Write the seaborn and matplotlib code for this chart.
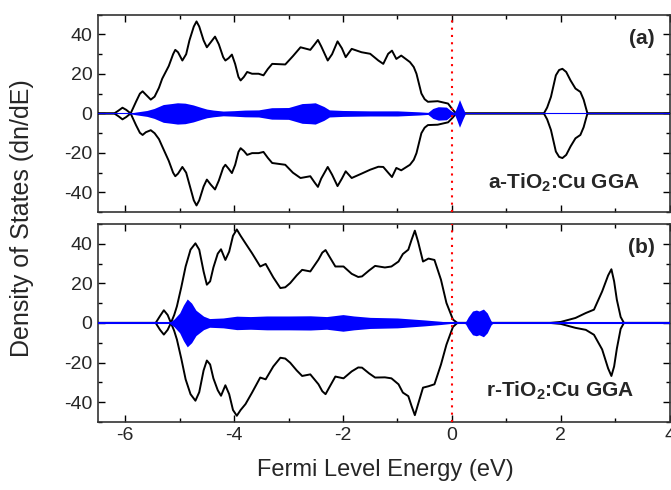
import numpy as np
import pandas as pd
import matplotlib
matplotlib.use("Agg")
import matplotlib.pyplot as plt
from matplotlib.ticker import MultipleLocator
import seaborn as sns

# ---------------- data ----------------
# panel (a): a-TiO2:Cu  total DOS, spin up / spin down
E_a = [-6.5, -6.2, -6.12, -6.05, -5.98, -5.9, -5.8, -5.73, -5.68, -5.62, -5.53, -5.46,
       -5.38, -5.32, -5.2, -5.12, -5.08, -5.03, -4.95, -4.88, -4.82, -4.74, -4.69,
       -4.64, -4.56, -4.5, -4.43, -4.35, -4.28, -4.2, -4.16, -4.10, -4.04, -3.98,
       -3.92, -3.88, -3.82, -3.76, -3.67, -3.55, -3.46, -3.38, -3.30, -3.06, -2.92,
       -2.78, -2.60, -2.52, -2.46, -2.40, -2.28, -2.20, -2.10, -2.02, -1.95, -1.84,
       -1.66, -1.50, -1.35, -1.26, -1.17, -1.10, -1.02, -0.93, -0.77, -0.70, -0.65,
       -0.56, -0.50, -0.44, -0.26, -0.07, 0.02, 0.08, 0.3, 1.69, 1.75, 1.82, 1.91,
       1.97, 2.03, 2.10, 2.18, 2.27, 2.36, 2.42, 2.49, 4.0]
up_a = [0, 0, 1.5, 2.9, 1.8, 0, 6, 10, 11.2, 9.5, 7.0, 8.5,
        13, 17.6, 24, 30, 32.2, 31, 26.8, 30, 37, 44, 46.6,
        44, 37, 33.5, 36, 38.9, 35, 28.5, 26.8, 28, 29.8, 25,
        18.5, 16.7, 18.5, 21.0, 20.1, 20.1, 19.3, 22.5, 25.1, 24.8, 29,
        33.5, 32.2, 35, 37.2, 34, 26.8, 30, 36.5, 33, 28.5, 32.7,
        31.0, 30.2, 26.8, 25.1, 30.2, 31.8, 27.6, 29.3, 26.0, 23.5, 20.1,
        10.1, 7.2, 5.9, 6.2, 5.0, 1.7, 0, 0, 0, 3, 8.4, 19.3,
        22, 22.6, 21, 16.7, 12.6, 10.9, 7, 0, 0]
dn_a = [0, 0, -1.5, -3.0, -1.8, 0, -6, -9.8, -10.9, -9.5, -8.5, -10,
        -13, -16.7, -24, -30, -31.8, -30.5, -27.1, -30, -36, -44, -46.6,
        -44, -37, -33.5, -36, -38.5, -34, -27.5, -26, -28, -30.2, -26,
        -19.5, -17.6, -19, -21, -20.1, -20.1, -19.5, -22.5, -25.1, -26, -30,
        -32.7, -31.8, -35, -37.2, -33, -27.1, -31, -36.8, -33, -29.3, -32.7,
        -30.5, -28.5, -27, -27.1, -30, -32.2, -27.6, -28.8, -26, -23.5, -20.1,
        -10, -7.2, -5.9, -5.7, -4.5, -2, 0, 0, 0, -3, -8.4, -19.3,
        -22, -22.6, -21, -16.7, -12.6, -10.9, -7, 0, 0]

# panel (a): Cu partial DOS (filled, symmetric)
Ep_a = [-6.5, -5.95, -5.8, -5.6, -5.47, -5.3, -5.15, -5.04, -4.9, -4.75, -4.6, -4.5,
        -4.38, -4.2, -4.0, -3.8, -3.55, -3.31, -3.0, -2.75, -2.6, -2.51, -2.35, -2.25,
        -2.0, -1.5, -1.0, -0.6, -0.44, -0.35, -0.25, -0.1, 0.0, 0.05, 0.1, 0.14, 0.2,
        0.25, 4.0]
pd_a = [0, 0, 0.7, 1.5, 2.5, 4.5, 5.0, 5.4, 5.2, 4.3, 3.0, 2.2,
        1.7, 1.2, 1.4, 1.7, 1.8, 2.9, 3.0, 5.0, 5.2, 5.4, 3.5, 1.8,
        1.5, 1.3, 1.3, 0.8, 0.5, 2.5, 3.4, 3.2, 1.0, 0.5, 4.0, 7.0, 3.0,
        0, 0]

# panel (b): r-TiO2:Cu total DOS
E_b = [-6.5, -5.44, -5.36, -5.29, -5.22, -5.16, -5.10, -5.05, -4.97, -4.89, -4.80,
       -4.71, -4.64, -4.56, -4.50, -4.44, -4.38, -4.30, -4.24, -4.16, -4.09, -4.02,
       -3.95, -3.88, -3.79, -3.67, -3.52, -3.42, -3.28, -3.15, -3.06, -2.97, -2.85,
       -2.75, -2.60, -2.45, -2.38, -2.32, -2.26, -2.14, -1.99, -1.84, -1.72, -1.65,
       -1.52, -1.41, -1.23, -1.11, -0.98, -0.90, -0.80, -0.74, -0.68, -0.62, -0.53,
       -0.43, -0.32, -0.20, -0.10, 0.02, 0.10, 1.8, 2.0, 2.27, 2.46, 2.61, 2.76,
       2.87, 2.93, 2.98, 3.03, 3.10, 3.16, 4.0]
up_b = [0, 0, 3.5, 6.4, 4, 0, 4, 8.4, 18, 28.5, 37,
        40.2, 37, 26, 19.3, 21, 28, 35, 37.2, 31.8, 36, 44,
        47.2, 44, 40.2, 35.2, 28.5, 29.8, 23, 17.6, 18, 20.1, 24,
        26.8, 26.0, 32, 35.5, 36.8, 34, 28.5, 28.5, 24.8, 23.2, 23.5,
        26.5, 28.8, 28.0, 28.5, 31, 34.8, 37, 42, 46.6, 41, 31.0,
        32.5, 31.8, 21.8, 10.1, 1.7, 0, 0, 0.5, 2.5, 5.0, 6.7, 15.9,
        24, 27.1, 21, 11.7, 3, 0, 0]
dn_b = [0, 0, -3.5, -5.9, -3.5, 0, -4, -8.4, -18, -28.5, -36,
        -39.3, -35, -24, -19, -21, -28, -34, -36.8, -31.5, -36, -44,
        -46.9, -44, -41, -35.2, -27.6, -28.5, -22, -17.6, -18, -20.1, -24,
        -26.8, -26, -31, -34.5, -36, -33, -27.1, -28, -24.5, -22.5, -22.6,
        -25.5, -27.6, -27.5, -28, -31, -35.2, -37, -42, -46.6, -41, -32.7,
        -32, -31, -21, -11, -2, 0, 0, -0.5, -2.5, -3.5, -6, -13.4,
        -23, -26.8, -22, -13, -3, 0, 0]

# panel (b): Cu partial DOS
Ep_b = [-6.5, -5.2, -5.1, -5.0, -4.93, -4.86, -4.78, -4.7, -4.56, -4.45, -4.2, -3.95,
        -3.7, -3.4, -3.0, -2.6, -2.3, -2.0, -1.8, -1.5, -1.0, -0.5, -0.2, 0.0, 0.2,
        0.25, 0.3, 0.38, 0.45, 0.5, 0.58, 0.65, 0.72, 0.76, 4.0]
pd_b = [0, 0, 2, 5, 9, 12.1, 10, 6.4, 3.4, 2.2, 2.5, 3.4,
        3.2, 3.5, 3.5, 3.6, 3.2, 4.2, 3.5, 2.8, 2.5, 1.5, 0.8, 0.2, 0,
        0.5, 3, 6, 6.5, 6, 7, 5, 1, 0, 0]

panel_tags = ["(a)", "(b)"]
panel_names = [r"a-TiO$_\mathbf{2}$:Cu GGA", r"r-TiO$_\mathbf{2}$:Cu GGA"]
x_ticks = [-6, -4, -2, 0, 2, 4]
y_ticks = [-40, -20, 0, 20, 40]

# ---------------- style ----------------
sns.set_theme(style="ticks")
plt.rcParams["font.family"] = ["Liberation Sans", "DejaVu Sans"]
plt.rcParams["mathtext.fontset"] = "custom"
plt.rcParams["mathtext.rm"] = "Liberation Sans"
plt.rcParams["mathtext.bf"] = "Liberation Sans:bold"
plt.rcParams["axes.unicode_minus"] = False

fig = plt.figure(figsize=(6.71, 4.90), dpi=100)
ax_a = fig.add_axes([0.146, 0.567, 0.852, 0.403])
ax_b = fig.add_axes([0.146, 0.139, 0.852, 0.404])

panels = [
    (ax_a, E_a, up_a, dn_a, Ep_a, pd_a, 0.8),
    (ax_b, E_b, up_b, dn_b, Ep_b, pd_b, 1.5),
]

for i, (ax, E, up, dn, Ep, pdos, zlw) in enumerate(panels):
    df = pd.DataFrame({"E": E, "up": up, "dn": dn})
    for col in ["up", "dn"]:
        sns.lineplot(data=df, x="E", y=col, color="black", lw=1.4, ax=ax,
                     estimator=None, sort=False, zorder=3,
                     solid_joinstyle="round", solid_capstyle="round")
    pdf = pd.DataFrame({"E": Ep, "p": pdos})
    ax.fill_between(pdf["E"], -pdf["p"], pdf["p"], color="#0000ff", lw=0, zorder=4)
    ax.axhline(0, color="#0000ff", lw=zlw, zorder=4)
    ax.axvline(0, color="red", ls=(0, (1, 2.5)), lw=1.5, zorder=5)

    ax.set_xlim(-6.5, 4)
    ax.set_ylim(-50, 50)
    ax.set_xticks(x_ticks)
    ax.set_yticks(y_ticks)
    ax.xaxis.set_minor_locator(MultipleLocator(1))
    ax.yaxis.set_minor_locator(MultipleLocator(10))
    ax.tick_params(which="both", direction="in", top=True, right=True,
                   width=1.0, color="black", labelsize=14, pad=4)
    ax.tick_params(which="major", length=5)
    ax.tick_params(which="minor", length=3)
    for s in ax.spines.values():
        s.set_linewidth(1.2)
        s.set_color("#333333")
    ax.set_xlabel("")
    ax.set_ylabel("")
    ax.text(3.72, 38, panel_tags[i], ha="right", va="center",
            fontsize=15, fontweight="bold")
    ax.text(3.45 if i == 0 else 3.36, -35 if i == 0 else -34, panel_names[i],
            ha="right", va="center", fontsize=15, fontweight="bold")

ax_a.tick_params(labelbottom=False)

fig.text(0.033, 0.555, "Density of States (dn/dE)", rotation=90,
         ha="center", va="center", fontsize=18)
fig.text(0.574, 0.041, "Fermi Level Energy (eV)", ha="center", va="center",
         fontsize=17)

fig.savefig("out.png", dpi=100)
